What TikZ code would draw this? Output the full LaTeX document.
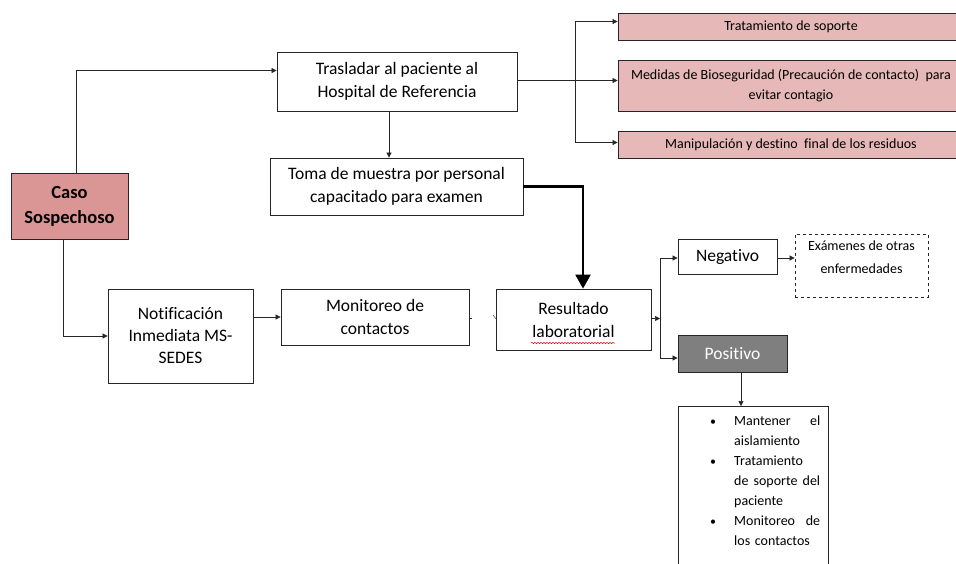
\documentclass[tikz,border=0pt]{standalone}
\usepackage{fontspec}
\setmainfont{Carlito}[Ligatures=NoCommon]
\usetikzlibrary{arrows.meta,decorations.pathmorphing}
\definecolor{casopink}{HTML}{D99694}
\definecolor{lightpink}{HTML}{E6B8B7}
\definecolor{posgray}{HTML}{7F7F7F}
\definecolor{edge}{HTML}{262626}
\begin{document}
\begin{tikzpicture}[x=1pt,y=-1pt,
  box/.style={draw=edge, line width=0.8pt, rectangle, inner sep=2pt, align=center, font=\fontsize{17.5}{23}\selectfont},
  pinkbox/.style={box, fill=lightpink, font=\fontsize{14}{20}\selectfont},
  conn/.style={draw=edge, line width=0.7pt, -{Triangle[length=5pt,width=5pt]}},
  plain/.style={draw=edge, line width=0.7pt}
]
\useasboundingbox (0,0) rectangle (956,563);

\node[box, fill=casopink, minimum width=117pt, minimum height=66pt, font=\bfseries\fontsize{18.5}{25}\selectfont] (caso) at (69.5,206) {Caso\\Sospechoso};
\node[box, minimum width=240pt, minimum height=59pt] (tras) at (397,81.5) {Trasladar al paciente al\\Hospital de Referencia};
\node[box, minimum width=253pt, minimum height=57pt] (toma) at (396.5,186.5) {Toma de muestra por personal\\capacitado para examen};
\node[pinkbox, minimum width=346pt, minimum height=27pt] (trat) at (791,26.5) {Tratamiento de soporte};
\node[pinkbox, minimum width=346pt, minimum height=51pt] (med) at (791,85.5) {Medidas de Bioseguridad (Precaución de contacto)\ \ para\\evitar contagio};
\node[pinkbox, minimum width=346pt, minimum height=27pt] (man) at (791,144.5) {Manipulación y destino\ \ final de los residuos};
\node[box, minimum width=145pt, minimum height=94pt, font=\fontsize{17.5}{22}\selectfont] (noti) at (180.5,336) {Notificación\\Inmediata MS-\\SEDES};
\node[box, minimum width=188pt, minimum height=56pt] (moni) at (375,317) {Monitoreo de\\contactos};
\node[box, minimum width=155pt, minimum height=61pt] (res) at (573.5,319.5) {Resultado\\laboratorial};
\node[box, minimum width=99pt, minimum height=35pt] (neg) at (727.5,256.5) {Negativo};
\node[box, dashed, minimum width=133pt, minimum height=63pt] (exa) at (861.5,265.5) {};
\node[font=\fontsize{14}{23}\selectfont, align=center, anchor=north, inner sep=0pt] (exat) at (861.5,241) {Exámenes de otras\\enfermedades};
\node[box, fill=posgray, text=white, minimum width=109pt, minimum height=37pt] (pos) at (732.5,353.5) {Positivo};

% bullet box (open at bottom)
\coordinate (bt) at (741,406);
\draw[plain] (678,570) -- (678,406) -- (828,406) -- (828,570);
\node[anchor=north west, inner sep=0pt, text width=86pt, align=left,
      font=\fontsize{14}{20}\selectfont] (bl) at (734,416)
 {\leavevmode\hbox to 86pt{Mantener\hfill el}\\
  aislamiento\\
  Tratamiento\\
  \leavevmode\hbox to 86pt{de\hfill soporte\hfill del}\\
  paciente\\
  \leavevmode\hbox to 86pt{Monitoreo\hfill de}\\
  los contactos};
\foreach \yy in {423,463,523} \node[font=\fontsize{12}{12}\selectfont, inner sep=0pt] at (713,\yy) {\textbullet};

% red spell-check underline
\draw[red, line width=0.5pt, decorate, decoration={snake, amplitude=0.7pt, segment length=3pt}] (531,343) -- (615,343);

% connectors
\draw[conn] ([xshift=6.5pt]caso.north) |- ([yshift=11pt]tras.west);
\draw[conn] ([xshift=-6.5pt]caso.south) |- (noti.west);
\draw[conn] ([xshift=-8pt]tras.south) -- ([xshift=-8pt]tras.south |- toma.north);
\draw[draw=black, line width=2.4pt, -{Triangle[length=14pt,width=15pt]}] (toma.east) -| ([xshift=9.5pt]res.north);
\coordinate (sp) at (575,80);
\draw[plain] ([yshift=1.5pt]tras.east) -- (sp);
\draw[conn] (sp) |- ([yshift=5pt]trat.west);
\draw[conn] (sp) |- ([yshift=5pt]med.west);
\draw[conn] (sp) |- ([yshift=2pt]man.west);
\draw[conn] (moni.west -| noti.east) -- (moni.west);
\draw[plain] ([yshift=-1pt]moni.east) -- ++(3,0);
\draw[plain, line width=0.4pt] (493,315) -- (496,319);
\coordinate (sp2) at (660,318.5);
\draw[conn] ([yshift=1pt]res.east) -- (sp2);
\draw[conn] (sp2) |- ([yshift=-1.5pt]neg.west);
\draw[conn] (sp2) |- ([yshift=-4.5pt]pos.west);
\draw[conn] ([yshift=-1.5pt]neg.east) -- ([yshift=-1.5pt]neg.east -| exa.west);
\draw[conn] ([xshift=8.5pt]pos.south) -- (bt);
\end{tikzpicture}
\end{document}
